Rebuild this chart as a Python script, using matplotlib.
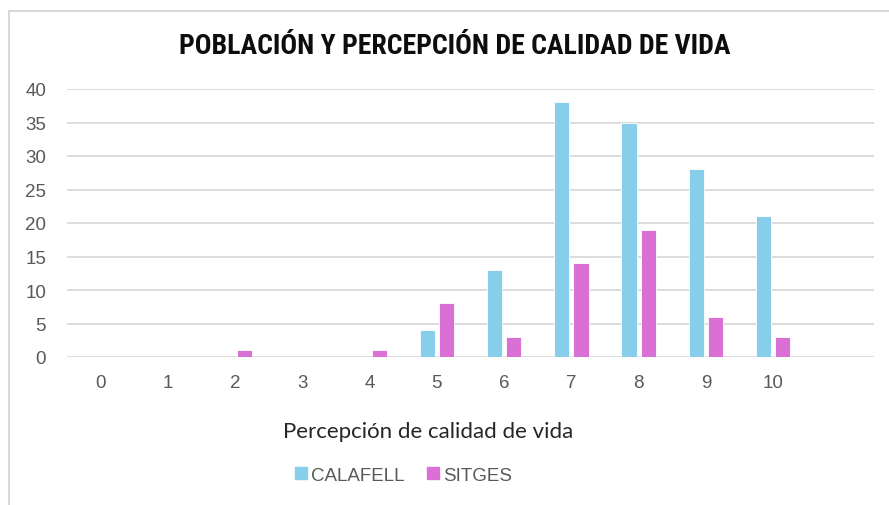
import matplotlib
matplotlib.use("Agg")
import matplotlib.pyplot as plt
from matplotlib import font_manager
from matplotlib.lines import Line2D
import numpy as np

# data
categories = ["0", "1", "2", "3", "4", "5", "6", "7", "8", "9", "10", ""]
calafell = [0, 0, 0, 0, 0, 4, 13, 38, 35, 28, 21, 0]
sitges = [0, 0, 1, 0, 1, 8, 3, 14, 19, 6, 3, 0]

blue = "#87CEEB"
pink = "#DA70D6"
grey_txt = "#595959"

# pick a narrow bold face for the title if one is installed
names = {f.name for f in font_manager.fontManager.ttflist}
title_font = "Roboto"
for cand in ["Liberation Sans Narrow", "Roboto Condensed", "DejaVu Sans Condensed"]:
    if cand in names:
        title_font = cand
        break

fig = plt.figure(figsize=(8.89, 5.06), dpi=100)
ax = fig.add_axes([67 / 889, 1 - 358 / 506, (874 - 67) / 889, (358 - 90) / 506])

x = np.arange(len(categories))
w = 0.225
ax.bar(x - w / 2 - 0.03, calafell, width=w, color=blue, edgecolor="white",
       linewidth=0.6, label="CALAFELL", zorder=3)
ax.bar(x + w / 2 + 0.03, sitges, width=w, color=pink, edgecolor="white",
       linewidth=0.6, label="SITGES", zorder=3)

ax.set_xlim(-0.5, len(categories) - 0.5)
ax.set_ylim(0, 40)
ax.set_yticks(range(0, 41, 5))
ax.set_xticks(x)
ax.set_xticklabels(categories)

ax.grid(axis="y", color="#d9d9d9", linewidth=1.3, zorder=0)
for s in ax.spines.values():
    s.set_visible(False)
ax.tick_params(length=0, labelsize=13.5, labelcolor=grey_txt,
               labelfontfamily="Liberation Sans")
ax.tick_params(axis="x", pad=12)
ax.tick_params(axis="y", pad=15)

t = fig.text(455 / 889, 1 - 46 / 506, "POBLACIÓN Y PERCEPCIÓN DE CALIDAD DE VIDA",
             ha="center", va="center", fontsize=16, fontweight="bold",
             family=title_font, fontstretch="condensed", color="#0d0d0d")
# squeeze the title to the width it has in the reference (about 550 px)
fig.canvas.draw()
tw = t.get_window_extent().width
if tw > 0:
    t.set_fontsize(16 * min(1.25, max(0.75, 550 / tw)))

fig.text(428 / 889, 1 - 432 / 506, "Percepción de calidad de vida",
         ha="center", va="center", fontsize=16, family="Lato", color="#262626")

handles = [Line2D([], [], marker="s", linestyle="", color=blue, markersize=9),
           Line2D([], [], marker="s", linestyle="", color=pink, markersize=9)]
leg = fig.legend(handles, ["CALAFELL", "SITGES"], loc="center",
                 bbox_to_anchor=(402 / 889, 1 - 476 / 506), ncol=2, frameon=False,
                 handletextpad=0.05, columnspacing=1.0, handlelength=1.0,
                 prop={"family": "Liberation Sans", "size": 13.5})
for txt in leg.get_texts():
    txt.set_color(grey_txt)

# chart area border (left and top visible in the reference)
fig.add_artist(Line2D([9 / 889, 9 / 889], [0, 1 - 12 / 506], color="#d9d9d9",
                      linewidth=1.5, transform=fig.transFigure))
fig.add_artist(Line2D([9 / 889, 1], [1 - 12 / 506, 1 - 12 / 506], color="#d9d9d9",
                      linewidth=1.5, transform=fig.transFigure))

fig.savefig("out.png", dpi=100)
